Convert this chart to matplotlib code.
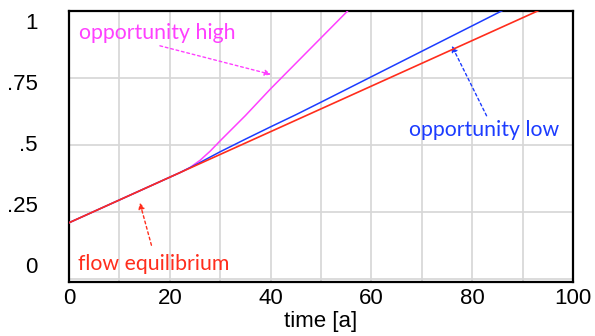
import matplotlib
matplotlib.use("Agg")
import matplotlib.pyplot as plt
import matplotlib.transforms as mtransforms

# time axis readings [a]
t_flow = [0, 20, 40, 60, 80, 100]
flow_equilibrium = [0.21, 0.38, 0.55, 0.72, 0.89, 1.06]

t_low = [0, 10, 20, 22, 25, 30, 35, 40, 45, 50, 60, 70, 80, 90]
opportunity_low = [0.21, 0.295, 0.38, 0.397, 0.425, 0.475, 0.522, 0.568,
                   0.613, 0.66, 0.755, 0.85, 0.945, 1.04]

t_high = [0, 10, 20, 22, 24, 26, 28, 30, 35, 40, 45, 50, 55, 60]
opportunity_high = [0.21, 0.295, 0.38, 0.397, 0.416, 0.443, 0.477, 0.516,
                    0.61, 0.71, 0.805, 0.9, 0.995, 1.09]

x_ticks = [0, 20, 40, 60, 80, 100]
y_ticks = [0, 0.25, 0.5, 0.75, 1]
y_labels = ["0", ".25", ".5", ".75", "1"]

RED = "#ff2d1c"
BLUE = "#1c3cff"
MAGENTA = "#ff40ff"
TICK_FONT = "Liberation Sans"
NOTE_FONT = "Lato"

fig = plt.figure(figsize=(5.95, 3.36), dpi=100)
ax = fig.add_axes([0.116, 0.1607, 0.847, 0.8063])

ax.plot(t_high, opportunity_high, color=MAGENTA, lw=1.1, zorder=3)
ax.plot(t_low, opportunity_low, color=BLUE, lw=1.1, zorder=4)
ax.plot(t_flow, flow_equilibrium, color=RED, lw=1.2, zorder=5)

ax.set_xlim(0, 100)
ax.set_ylim(-0.0112, 1)
ax.set_xticks(range(0, 101, 10), minor=False)
ax.set_xticklabels([str(v) if v in x_ticks else "" for v in range(0, 101, 10)],
                   fontsize=16, fontfamily=TICK_FONT)
ax.set_yticks(y_ticks)
ax.set_yticklabels([])
ax.tick_params(length=0, pad=4)
ax.grid(True, color="#d6d6d6", lw=1.2)
ax.set_axisbelow(True)
for s in ax.spines.values():
    s.set_linewidth(1.6)
    s.set_color("black")

# vensim-style y labels sit slightly off the gridlines
trans = mtransforms.blended_transform_factory(ax.transAxes, ax.transAxes)
for i, lab in enumerate(y_labels):
    ax.text(-0.062, 0.052 + 0.226 * i, lab, transform=trans, ha="right",
            va="center", fontsize=16, fontfamily=TICK_FONT)

ax.set_xlabel("time [a]", fontsize=16, fontfamily=TICK_FONT, labelpad=2)

arrow = dict(arrowstyle="-|>", linestyle=(0, (2, 2)), lw=1.0, mutation_scale=9)
ax.annotate("", xy=(40.6, 0.761), xytext=(17.5, 0.873),
            arrowprops=dict(arrow, color=MAGENTA))
ax.annotate("", xy=(75.7, 0.88), xytext=(83.1, 0.60),
            arrowprops=dict(arrow, color=BLUE))
ax.annotate("", xy=(13.9, 0.295), xytext=(16.5, 0.116),
            arrowprops=dict(arrow, color=RED))

ax.text(2.0, 0.918, "opportunity high", color=MAGENTA, fontsize=15.3,
        fontfamily=NOTE_FONT, ha="left", va="center")
ax.text(67.4, 0.556, "opportunity low", color=BLUE, fontsize=15.3,
        fontfamily=NOTE_FONT, ha="left", va="center")
ax.text(1.8, 0.056, "flow equilibrium", color=RED, fontsize=15.3,
        fontfamily=NOTE_FONT, ha="left", va="center")

fig.savefig("out.png", dpi=100)
